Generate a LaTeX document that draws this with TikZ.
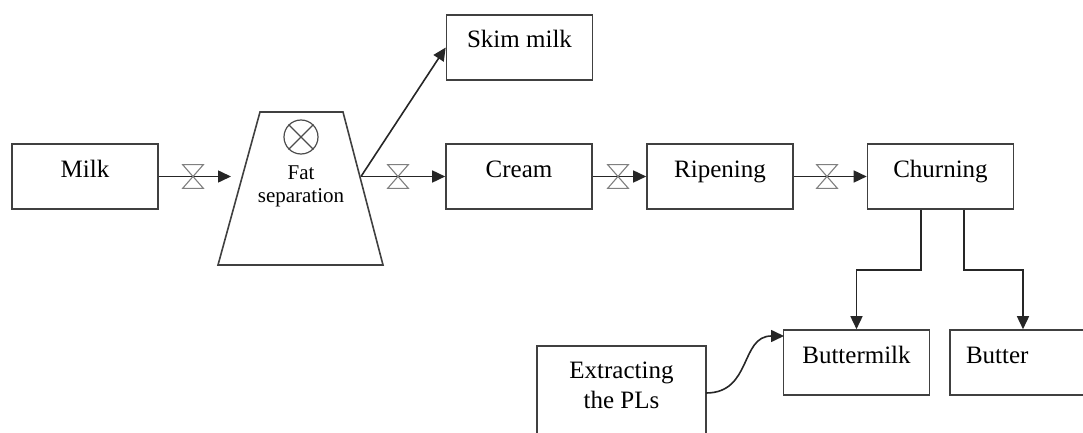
\documentclass[tikz,border=0pt]{standalone}
\usepackage{fontspec}
\setmainfont{Liberation Serif}
\usetikzlibrary{arrows.meta}
\begin{document}
\begin{tikzpicture}[x=0.5pt,y=-0.5pt,
  box/.style={draw=black!75, line width=0.8pt, inner sep=0pt, minimum width=73pt,
    text height=16.5pt, text depth=16pt, font=\fontsize{12.5}{15}\selectfont, align=center},
  arr/.style={draw=black!85, line width=0.8pt, -{Triangle[length=6.5pt,width=6pt]}},
  conn/.style={draw=black!75, line width=0.8pt},
  valve/.style={minimum width=10pt, minimum height=11.5pt, inner sep=0pt},
  valveline/.style={draw=black!50, line width=0.55pt},
]
\useasboundingbox (0,0) rectangle (1083,433);
\clip (0,0) rectangle (1083,433);

% boxes
\node[box] (milk) at (85,176.5) {Milk};
\node[box] (skim) at (519.5,47.5) {Skim milk};
\node[box] (cream) at (519,176.5) {Cream};
\node[box] (ripening) at (720,176.5) {Ripening};
\node[box] (churning) at (940.5,176.5) {Churning};
\node[box] (buttermilk) at (856.5,362.5) {Buttermilk};
\node[box, inner xsep=8pt, text width=57pt, align=left] (butter) at (1023,362.5) {Butter};
\node[box, anchor=north, minimum width=84.5pt, text height=31.5pt, text depth=30pt] (extract) at (621.5,345) {Extracting\\the PLs};

% separator
\coordinate (tl) at (260,112);
\coordinate (tr) at (343,112);
\coordinate (br) at (383,265);
\coordinate (bl) at (218,265);
\draw[conn] (tl) -- (tr) -- (br) -- (bl) -- cycle;
\node[draw=black!70, line width=0.6pt, circle, minimum size=17pt, inner sep=0pt] (sepc) at (301,137) {};
\draw[black!70, line width=0.6pt] (sepc.north west) -- (sepc.south east);
\draw[black!70, line width=0.6pt] (sepc.north east) -- (sepc.south west);
\node[anchor=base, inner sep=0pt, align=center,
  font=\fontsize{10.5}{11.5}\selectfont] (fat) at (301,203) {Fat\\separation};

\coordinate (sepin) at (231,176.5);
\coordinate (sepout) at (361,176.5);

% connectors
\draw[arr] (milk.east) -- (sepin);
\draw[arr] (sepout) -- (cream.west);
\draw[arr] (sepout) -- (skim.west);
\draw[arr] (cream.east) -- (ripening.west);
\draw[arr] (ripening.east) -- (churning.west);
\draw[arr] ([xshift=-9.75pt]churning.south) -- ++(0,60) -| (buttermilk.north);
\draw[arr] ([xshift=11.75pt]churning.south) -- ++(0,60) -| (butter.north);
\coordinate (cs) at (706,393);
\coordinate (ce) at (784,336);
\draw[arr] (cs) .. controls (752,393) and (740,336) .. (ce);

% valves
\node[valve] (v1) at (193,176.5) {};
\node[valve] (v2) at (398,176.5) {};
\node[valve] (v3) at (618,176.5) {};
\node[valve] (v4) at (827,176.5) {};
\foreach \v in {v1,v2,v3,v4}
  \draw[valveline] (\v.north west) -- (\v.north east) -- (\v.south west) -- (\v.south east) -- cycle;
\end{tikzpicture}
\end{document}
